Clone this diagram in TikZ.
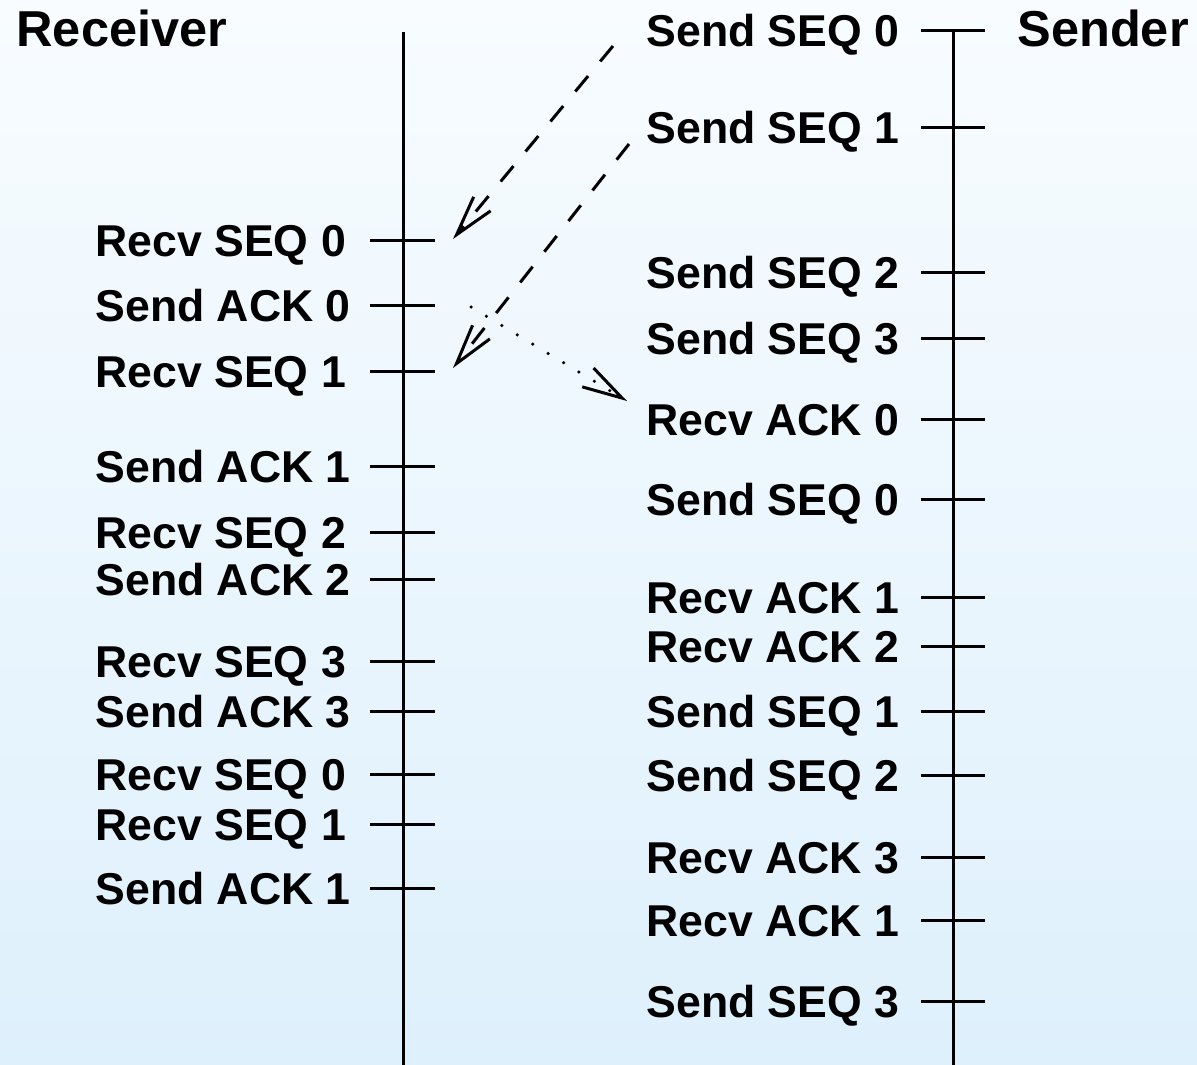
\documentclass[tikz,border=0pt]{standalone}
\usepackage{fontspec}
\setmainfont{Liberation Sans}
\usetikzlibrary{arrows.meta}
\definecolor{bgtop}{RGB}{248,252,255}
\definecolor{bgbot}{RGB}{222,240,252}
\begin{document}
\begin{tikzpicture}[x=1pt,y=-1pt,line width=3pt,
  lbl/.style={anchor=base west,inner sep=0pt,font=\fontsize{44.6}{50}\selectfont\bfseries},
  ttl/.style={anchor=base west,inner sep=0pt,font=\fontsize{50.5}{56}\selectfont\bfseries},
  tipv/.style={-{Straight Barb[length=40pt,width=22pt,line width=3pt]}},
  msgdash/.style={tipv,dash pattern=on 20pt off 19pt},
  msgdot/.style={tipv,line cap=round,dash pattern=on 0pt off 18pt,line width=3.5pt}]
\shade[top color=bgtop,bottom color=bgbot] (0,0) rectangle (1197,1065);
\useasboundingbox (0,0) rectangle (1197,1065);
% titles
\node[ttl] (recv) at (15,47) {Receiver};
\node[ttl] (send) at (1016,47) {Sender};
% timelines
\coordinate (rtop) at (403,32);
\coordinate (rbot) at (403,1065);
\coordinate (stop) at (953,31);
\coordinate (sbot) at (953,1065);
\draw (rtop) -- (rbot);
\draw (stop) -- (sbot);
% receiver events
\foreach \y/\t [count=\i] in {240/Recv SEQ 0,305/Send ACK 0,371/Recv SEQ 1,466/Send ACK 1,532/Recv SEQ 2,579/Send ACK 2,661/Recv SEQ 3,711/Send ACK 3,774/Recv SEQ 0,824/Recv SEQ 1,888/Send ACK 1}{
  \coordinate (r\i) at (403,\y);
  \node[lbl] (rl\i) at (94,\y+16) {\t};
  \draw ([xshift=-33pt]r\i) -- ([xshift=32pt]r\i);
}
% sender events
\foreach \y/\t [count=\i] in {31/Send SEQ 0,127/Send SEQ 1,272/Send SEQ 2,338/Send SEQ 3,419/Recv ACK 0,499/Send SEQ 0,597/Recv ACK 1,646/Recv ACK 2,711/Send SEQ 1,775/Send SEQ 2,857/Recv ACK 3,920/Recv ACK 1,1001/Send SEQ 3}{
  \coordinate (s\i) at (953,\y);
  \node[lbl] (sl\i) at (645,\y+16) {\t};
  \draw ([xshift=-32pt]s\i) -- ([xshift=32pt]s\i);
}
% messages
\coordinate (m1s) at (613,46);
\coordinate (m1e) at (453,239);
\coordinate (m2s) at (629,144);
\coordinate (m2e) at (453,368);
\coordinate (m3s) at (471,307);
\coordinate (m3e) at (627,401);
\draw[msgdash] (m1s) -- (m1e);
\draw[msgdash] (m2s) -- (m2e);
\draw[msgdot] (m3s) -- (m3e);
\end{tikzpicture}
\end{document}
